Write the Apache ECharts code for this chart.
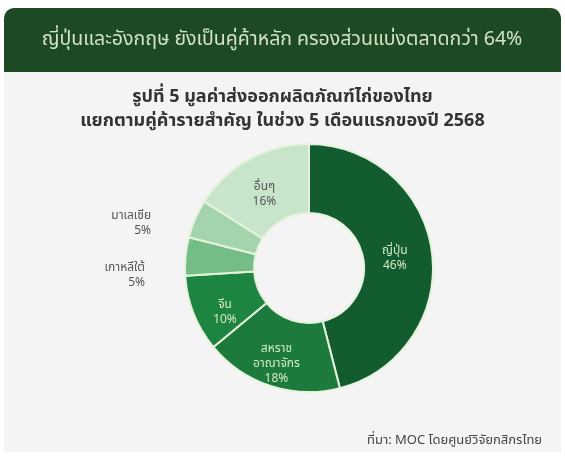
<!DOCTYPE html>
<html><head><meta charset="utf-8">
<script src="https://cdn.jsdelivr.net/npm/echarts@6/dist/echarts.min.js"></script>
<style>html,body{margin:0;padding:0;background:#fff}#c{width:565px;height:456px}</style>
</head><body><div id="c"></div>
<script>
const headline = 'ญี่ปุ่นและอังกฤษ ยังเป็นคู่ค้าหลัก ครองส่วนแบ่งตลาดกว่า 64%';
const titleLines = ['รูปที่ 5 มูลค่าส่งออกผลิตภัณฑ์ไก่ของไทย', 'แยกตามคู่ค้ารายสำคัญ ในช่วง 5 เดือนแรกของปี 2568'];
const sourceText = 'ที่มา: MOC โดยศูนย์วิจัยกสิกรไทย';
const partners = ['ญี่ปุ่น', 'สหราช\nอาณาจักร', 'จีน', 'เกาหลีใต้', 'มาเลเซีย', 'อื่นๆ'];
const shares = [46, 18, 10, 5, 5, 16];

const colors = ['#135c2f', '#1b7a3c', '#1e8442', '#74bd86', '#a3d4ad', '#c8e5cc'];
const labelColors = ['#d4eac6', '#d4eac6', '#d4eac6', '#555', '#555', '#555'];
const outsideIdx = [3, 4];

const font = '"Noto Sans Thai","Noto Sans","Open Sans",sans-serif';
const chart = echarts.init(document.getElementById('c'));

function labelFor(i) {
  if (outsideIdx.includes(i)) {
    return {position: 'outside', color: labelColors[i], align: 'center', padding: [10, 0, 10, 0], offset: [-8, 9]};
  }
  const nudge = {0: [-6, 3], 1: [-4, 9], 2: [2, 11], 5: [0, 8]}[i] || [0, 0];
  return {color: labelColors[i], offset: nudge};
}

chart.setOption({
  backgroundColor: '#ffffff',
  animation: false,
  graphic: [
    {type: 'rect', shape: {x: 4, y: 8, width: 557, height: 444, r: [10, 10, 0, 0]}, style: {fill: '#f4f4f4'}, z: 0},
    {type: 'rect', shape: {x: 4, y: 8, width: 557, height: 64, r: [10, 10, 0, 0]}, style: {fill: '#1d4a24'}, z: 1},
    {type: 'text', x: 282, y: 41, style: {text: headline, fill: '#d3e4c6', font: '19.5px ' + font, align: 'center', verticalAlign: 'middle'}, z: 2},
    {type: 'text', x: 367, y: 441, style: {text: sourceText, fill: '#444', font: '13px ' + font, align: 'left', verticalAlign: 'middle'}, z: 2}
  ],
  title: {
    text: titleLines.join('\n'),
    left: 'center', top: 81,
    textStyle: {fontSize: 18, fontWeight: 'bold', color: '#333', lineHeight: 24, fontFamily: font}
  },
  series: [{
    type: 'pie',
    center: [309, 268],
    radius: [55, 124],
    startAngle: 90,
    clockwise: true,
    itemStyle: {borderColor: '#e6f3dc', borderWidth: 2},
    label: {position: 'inside', fontSize: 12, lineHeight: 15, fontFamily: font, formatter: p => p.name + '\n' + p.value + '%'},
    labelLine: {show: false},
    data: partners.map((n, i) => ({
      name: n, value: shares[i],
      itemStyle: {color: colors[i]},
      label: labelFor(i),
      labelLine: outsideIdx.includes(i) ? {show: false, length: 10, length2: 22} : {show: false}
    }))
  }]
});
</script></body></html>
